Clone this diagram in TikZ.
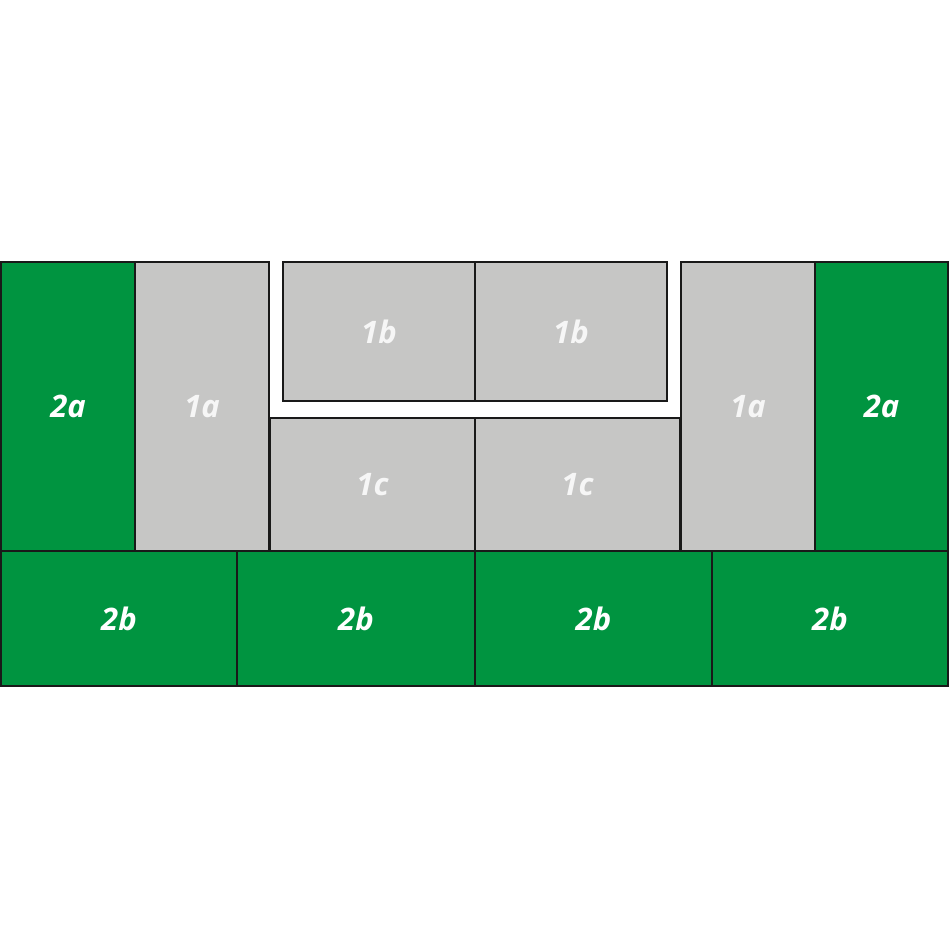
\documentclass[tikz,border=0pt]{standalone}
\usepackage{fontspec}
\setmainfont{Open Sans}
\definecolor{boxgreen}{RGB}{0,148,64}
\definecolor{boxgray}{RGB}{198,198,197}
\definecolor{labelgray}{RGB}{246,246,246}
\tikzset{
  tile/.style={draw=black!90, line width=2pt, inner sep=0pt, outer sep=0pt,
    font=\fontsize{31}{31}\selectfont\bfseries\itshape},
  greentile/.style={tile, fill=boxgreen, text=white},
  graytile/.style={tile, fill=boxgray, text=labelgray},
}
\begin{document}
\begin{tikzpicture}[x=1pt,y=-1pt]
\useasboundingbox[fill=white] (0,0) rectangle (950,950);
% left column
\node[greentile, minimum width=134pt, minimum height=289pt] (aL) at (68,406.5) {2a};
\node[graytile, minimum width=134pt, minimum height=289pt] (oneaL) at (202,406.5) {1a};
% top 1b
\node[graytile, minimum width=192pt, minimum height=139pt] (bL) at (379,331.5) {1b};
\node[graytile, minimum width=192pt, minimum height=139pt] (bR) at (571,331.5) {1b};
% 1c
\node[graytile, minimum width=205pt, minimum height=133pt] (cL) at (372.5,484.5) {1c};
\node[graytile, minimum width=205pt, minimum height=133pt] (cR) at (577.5,484.5) {1c};
% right column
\node[graytile, minimum width=134pt, minimum height=289pt] (oneaR) at (748,406.5) {1a};
\node[greentile, minimum width=133pt, minimum height=289pt] (aR) at (881.5,406.5) {2a};
% bottom row
\node[greentile, minimum width=236pt, minimum height=135pt] (b1) at (119,618.5) {2b};
\node[greentile, minimum width=238pt, minimum height=135pt] (b2) at (356,618.5) {2b};
\node[greentile, minimum width=237pt, minimum height=135pt] (b3) at (593.5,618.5) {2b};
\node[greentile, minimum width=236pt, minimum height=135pt] (b4) at (830,618.5) {2b};
\end{tikzpicture}
\end{document}
